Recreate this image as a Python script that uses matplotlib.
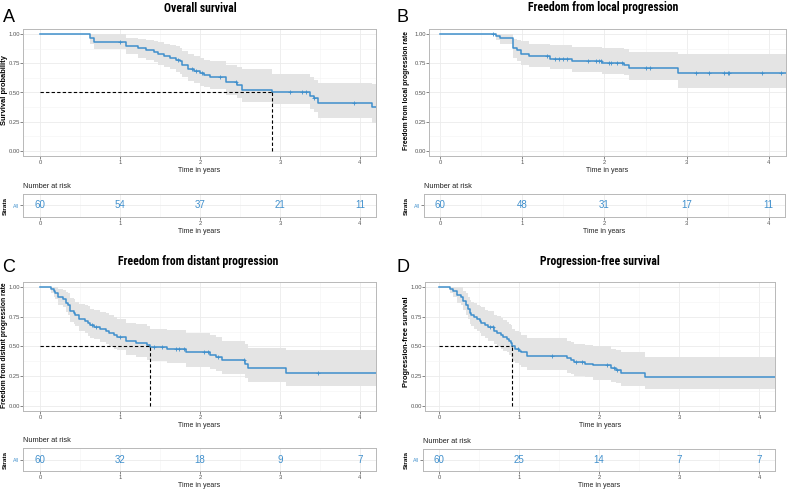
import numpy as np
import matplotlib as mpl
import matplotlib.pyplot as plt
from matplotlib import font_manager
from matplotlib.ticker import MultipleLocator

# ---- data ----
# A: overall survival
os_t = [0, 0.62, 0.67, 1.07, 1.22, 1.33, 1.42, 1.48, 1.55, 1.62, 1.70, 1.75, 1.78, 1.85,
        1.93, 2.0, 2.05, 2.12, 2.33, 2.46, 2.53, 2.90, 3.38, 3.42, 3.47, 4.15]
os_s = [1.0, 0.967, 0.933, 0.90, 0.883, 0.867, 0.85, 0.833, 0.817, 0.80, 0.783, 0.767, 0.733,
        0.70, 0.683, 0.667, 0.65, 0.633, 0.59, 0.564, 0.52, 0.50, 0.47, 0.45, 0.41, 0.375]
os_lo = [1.0, 0.92, 0.87, 0.83, 0.80, 0.78, 0.76, 0.74, 0.72, 0.70, 0.68, 0.66, 0.63, 0.60,
         0.58, 0.56, 0.55, 0.53, 0.48, 0.45, 0.42, 0.40, 0.36, 0.33, 0.28, 0.24]
os_hi = [1.0, 1.0, 1.0, 0.97, 0.96, 0.95, 0.94, 0.93, 0.92, 0.91, 0.90, 0.88, 0.86, 0.83,
         0.81, 0.80, 0.78, 0.77, 0.74, 0.72, 0.70, 0.66, 0.63, 0.61, 0.58, 0.57]
os_cens = [1.0, 1.72, 1.9, 1.95, 2.02, 2.25, 2.45, 3.13, 3.27, 3.33, 3.43, 3.93]
os_median = 2.90
os_risk = [60, 54, 37, 21, 11]

# B: freedom from local progression
lp_t = [0, 0.68, 0.73, 0.89, 0.94, 0.99, 1.08, 1.34, 1.60, 1.97, 2.24, 2.30, 2.90]
lp_s = [1.0, 0.983, 0.967, 0.883, 0.862, 0.83, 0.81, 0.79, 0.77, 0.75, 0.74, 0.71, 0.67]
lp_lo = [1.0, 0.95, 0.92, 0.80, 0.77, 0.74, 0.72, 0.70, 0.68, 0.66, 0.65, 0.61, 0.54]
lp_hi = [1.0, 1.0, 1.0, 0.96, 0.95, 0.94, 0.92, 0.91, 0.89, 0.88, 0.87, 0.85, 0.83]
lp_cens = [0.65, 1.3, 1.4, 1.45, 1.5, 1.55, 1.8, 1.9, 1.93, 1.96, 2.05, 2.08, 2.15, 2.22,
           2.5, 2.55, 3.12, 3.27, 3.45, 3.5, 3.52, 3.92, 4.15]
lp_median = None
lp_risk = [60, 48, 31, 17, 11]

# C: freedom from distant progression
dp_t = [0, 0.14, 0.17, 0.19, 0.23, 0.29, 0.33, 0.35, 0.38, 0.42, 0.44, 0.49, 0.56, 0.60,
        0.62, 0.67, 0.75, 0.82, 0.86, 0.92, 0.96, 1.075, 1.20, 1.34, 1.38, 1.59, 1.82,
        2.12, 2.20, 2.27, 2.56, 2.60, 3.07]
dp_s = [1.0, 0.983, 0.967, 0.95, 0.917, 0.90, 0.867, 0.85, 0.80, 0.783, 0.767, 0.733,
        0.717, 0.70, 0.683, 0.667, 0.65, 0.633, 0.617, 0.60, 0.583, 0.55, 0.53, 0.51,
        0.495, 0.48, 0.45, 0.43, 0.41, 0.385, 0.35, 0.315, 0.28]
dp_lo = [1.0, 0.95, 0.92, 0.90, 0.85, 0.83, 0.79, 0.77, 0.71, 0.69, 0.67, 0.63, 0.61, 0.59,
         0.57, 0.56, 0.54, 0.52, 0.50, 0.48, 0.47, 0.43, 0.41, 0.39, 0.38, 0.36, 0.33,
         0.31, 0.29, 0.27, 0.23, 0.20, 0.17]
dp_hi = [1.0, 1.0, 1.0, 1.0, 0.99, 0.98, 0.96, 0.95, 0.91, 0.90, 0.88, 0.86, 0.85, 0.84,
         0.82, 0.81, 0.79, 0.78, 0.77, 0.75, 0.73, 0.70, 0.69, 0.67, 0.65, 0.64, 0.61,
         0.60, 0.58, 0.55, 0.52, 0.49, 0.47]
dp_cens = [0.65, 0.7, 1.0, 1.43, 1.52, 1.7, 1.74, 1.8, 2.05, 2.1, 2.22, 2.55, 3.47]
dp_median = 1.37
dp_risk = [60, 32, 18, 9, 7]

# D: progression-free survival
pfs_t = [0, 0.14, 0.18, 0.23, 0.27, 0.30, 0.34, 0.36, 0.39, 0.40, 0.44, 0.48, 0.51, 0.53,
         0.57, 0.61, 0.69, 0.73, 0.77, 0.80, 0.85, 0.88, 0.90, 0.91, 0.95, 1.00, 1.02,
         1.10, 1.60, 1.65, 1.69, 1.83, 1.92, 2.15, 2.21, 2.28, 2.57]
pfs_s = [1.0, 0.983, 0.967, 0.933, 0.917, 0.883, 0.85, 0.817, 0.783, 0.767, 0.75, 0.733,
         0.717, 0.70, 0.683, 0.667, 0.633, 0.617, 0.60, 0.583, 0.567, 0.55, 0.533, 0.50,
         0.483, 0.465, 0.45, 0.42, 0.40, 0.385, 0.37, 0.355, 0.34, 0.32, 0.305, 0.28, 0.24]
pfs_lo = [1.0, 0.95, 0.92, 0.87, 0.85, 0.81, 0.77, 0.73, 0.69, 0.67, 0.65, 0.63, 0.61,
          0.59, 0.57, 0.55, 0.52, 0.50, 0.48, 0.46, 0.45, 0.43, 0.41, 0.38, 0.36, 0.34,
          0.33, 0.30, 0.28, 0.27, 0.25, 0.24, 0.22, 0.20, 0.19, 0.17, 0.14]
pfs_hi = [1.0, 1.0, 1.0, 1.0, 1.0, 0.97, 0.95, 0.92, 0.89, 0.88, 0.87, 0.85, 0.84, 0.83,
          0.81, 0.80, 0.77, 0.76, 0.74, 0.72, 0.71, 0.69, 0.68, 0.65, 0.63, 0.62, 0.60,
          0.57, 0.55, 0.54, 0.52, 0.51, 0.50, 0.48, 0.47, 0.45, 0.41]
pfs_cens = [0.64, 0.67, 0.99, 1.41, 1.71, 1.79, 2.1, 2.19, 2.23]
pfs_median = 0.91
pfs_risk = [60, 25, 14, 7, 7]

risk_times = [0, 1, 2, 3, 4]

# ---- style ----
W, H = 787, 490
BLUE = '#3f8fcc'
GRID = '#ebebeb'
FRAME = '#b8b8b8'
TICKC = '#555555'
plt.rcParams['font.family'] = ['Liberation Sans', 'DejaVu Sans']

# condensed bold title font if one is installed, else a smaller regular one
TITLE_FONT, TITLE_SIZE = 'Liberation Sans', 7.2
for fam in ['Roboto Condensed', 'Liberation Sans Narrow', 'DejaVu Sans Condensed']:
    try:
        font_manager.findfont(fam, fallback_to_default=False)
        TITLE_FONT, TITLE_SIZE = fam, 8.5
        break
    except ValueError:
        pass

fig = plt.figure(figsize=(W / 100, H / 100), dpi=100)


def box(x0, y0, x1, y1):
    return [x0 / W, 1 - y1 / H, (x1 - x0) / W, (y1 - y0) / H]


def style_axes(ax):
    for sp in ax.spines.values():
        sp.set_color(FRAME)
        sp.set_linewidth(0.7)
    ax.xaxis.set_major_locator(MultipleLocator(1))
    ax.xaxis.set_minor_locator(MultipleLocator(0.5))
    ax.grid(which='major', color=GRID, lw=0.6)
    ax.grid(which='minor', color='#f4f4f4', lw=0.4)
    ax.set_axisbelow(True)
    ax.tick_params(which='major', length=2, width=0.5, color=TICKC,
                   labelsize=4.2, labelcolor=TICKC, pad=1)
    ax.tick_params(axis='y', pad=0.4)
    ax.tick_params(which='minor', length=0)


def draw_km(pos, x0, ppy, t, s, lo, hi, cens, median):
    ax = fig.add_axes(box(*pos))
    left, right = pos[0], pos[2]
    t_end = (right - x0) / ppy
    tt = np.append(t, t_end)
    ax.fill_between(tt, np.append(lo, lo[-1]), np.append(hi, hi[-1]),
                    step='post', color='#e4e4e4', lw=0)
    ax.step(tt, np.append(s, s[-1]), where='post', color=BLUE, lw=1.1)
    # censor marks sit on the curve at each censor time
    idx = np.searchsorted(t, cens, side='right') - 1
    ax.plot(cens, np.array(s)[idx], ls='none', marker='+', ms=3.5, mew=0.6, color=BLUE)
    if median is not None:
        ax.plot([0, median], [0.5, 0.5], color='black', lw=0.8, ls=(0, (3, 2)))
        ax.plot([median, median], [0, 0.5], color='black', lw=0.8, ls=(0, (3, 2)))
    ax.set_xlim((left - x0) / ppy, t_end)
    ax.set_ylim(-0.045, 1.045)
    ax.yaxis.set_major_locator(MultipleLocator(0.25))
    ax.yaxis.set_minor_locator(MultipleLocator(0.125))
    ax.yaxis.set_major_formatter(mpl.ticker.FormatStrFormatter('%.2f'))
    style_axes(ax)
    ax.set_xlabel('Time in years', fontsize=5, labelpad=1.5, color='#222222')
    return ax


def draw_table(pos, x0, ppy, risk):
    ax = fig.add_axes(box(*pos))
    left, right = pos[0], pos[2]
    for xv, n in zip(risk_times, risk):
        ax.text(xv, 0.5, str(n), color=BLUE, fontsize=7, ha='center', va='center')
    ax.set_xlim((left - x0) / ppy, (right - x0) / ppy)
    ax.set_ylim(0, 1)
    ax.set_yticks([0.5])
    ax.set_yticklabels(['All'])
    style_axes(ax)
    ax.tick_params(axis='y', labelcolor=BLUE, labelsize=3.8, pad=1)
    ax.set_xlabel('Time in years', fontsize=5, labelpad=1.5, color='#222222')
    return ax


def ftext(x, y, s, **kw):
    fig.text(x / W, 1 - y / H, s, **kw)


panels = [
    # letter, title, ylabel, data, main box, table box, zero px, px per year,
    # letter xy, title xy, ylabel xy (all in picture pixels)
    ('A', 'Overall survival', 'Survival probability',
     (os_t, os_s, os_lo, os_hi, os_cens, os_median, os_risk),
     (23, 29, 376, 156), (23, 194, 376, 217), 40, 80, (3, 17), (200, 8), (5, 90)),
    ('B', 'Freedom from local progression', 'Freedom from local progression rate',
     (lp_t, lp_s, lp_lo, lp_hi, lp_cens, lp_median, lp_risk),
     (429, 29, 786, 156), (424, 194, 785, 217), 440, 82.2, (396, 18), (603, 8), (406, 91)),
    ('C', 'Freedom from distant progression', 'Freedom from distant progression rate',
     (dp_t, dp_s, dp_lo, dp_hi, dp_cens, dp_median, dp_risk),
     (23, 282, 376, 411), (23, 448, 376, 471), 40, 80, (2, 267), (198, 262), (5, 345)),
    ('D', 'Progression-free survival', 'Progression-free survival',
     (pfs_t, pfs_s, pfs_lo, pfs_hi, pfs_cens, pfs_median, pfs_risk),
     (425, 282, 775, 411), (423, 449, 775, 471), 439, 80, (396, 267), (600, 262), (406, 342)),
]

for letter, title, ylab, data, mbox, tbox, x0, ppy, lxy, txy, yxy in panels:
    t, s, lo, hi, cens, med, risk = data
    draw_km(mbox, x0, ppy, t, s, lo, hi, cens, med)
    draw_table(tbox, x0, ppy, risk)
    ftext(lxy[0], lxy[1], letter, fontsize=13, ha='left', va='center')
    ftext(txy[0], txy[1], title, fontsize=TITLE_SIZE, fontweight='bold', family=TITLE_FONT,
          ha='center', va='center')
    ylab_size = 4.9 if len(ylab) > 30 else 5.4
    ftext(yxy[0], yxy[1], ylab, fontsize=ylab_size, fontweight='bold', rotation=90,
          ha='center', va='center')
    ftext(tbox[0], tbox[1] - 8, 'Number at risk', fontsize=5.3, ha='left', va='center',
          color='#222222')
    ftext(yxy[0], (tbox[1] + tbox[3]) / 2, 'Strata', fontsize=4.6, fontweight='bold',
          rotation=90, ha='center', va='center')

fig.savefig('out.png', dpi=100)
